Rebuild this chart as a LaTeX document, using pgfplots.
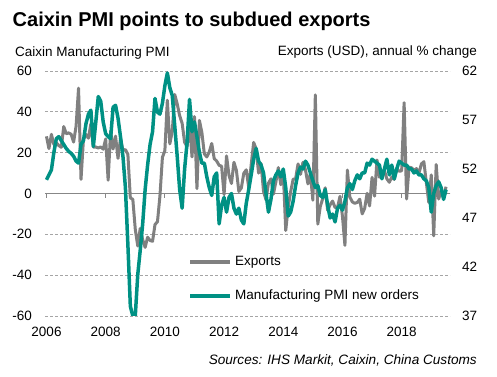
\documentclass[border=0pt]{standalone}
\usepackage{pgfplots}
\pgfplotsset{compat=1.18}
\usepackage{pgfplotstable}
\usepackage{fontspec}
\setmainfont{Liberation Sans}
\definecolor{expgray}{RGB}{128,128,128}
\definecolor{pmiteal}{RGB}{0,145,132}
\definecolor{gridgray}{RGB}{165,165,165}
\definecolor{zerogray}{RGB}{135,135,135}

% Exports (USD), annual % change; m = months since Jan 2006
\pgfplotstableread{
m v
0 28.0
1 22.0
2 29.0
3 24.0
4 24.9
5 23.5
6 22.6
7 32.8
8 29.3
9 29.7
10 29.0
11 25.2
12 33.0
13 51.6
14 6.9
15 26.8
16 28.9
17 27.1
18 34.1
19 22.7
20 22.8
21 22.3
22 22.8
23 21.7
24 26.7
25 6.5
26 30.6
27 21.8
28 28.1
29 17.2
30 26.9
31 21.1
32 21.5
33 19.2
34 -2.2
35 -2.8
36 -17.5
37 -25.7
38 -17.1
39 -22.6
40 -26.4
41 -21.4
42 -23.0
43 -23.4
44 -15.2
45 -13.8
46 -1.2
47 17.7
48 21.0
49 45.7
50 24.3
51 30.5
52 48.5
53 43.9
54 38.1
55 34.4
56 25.1
57 22.9
58 34.9
59 17.9
60 37.7
61 2.4
62 35.8
63 29.9
64 19.4
65 17.9
66 20.4
67 24.5
68 17.1
69 15.9
70 13.8
71 13.4
72 -0.5
73 18.4
74 8.9
75 4.9
76 15.3
77 11.3
78 1.0
79 2.7
80 9.9
81 11.6
82 2.9
83 14.1
84 25.0
85 21.8
86 10.0
87 14.7
88 1.0
89 -3.1
90 5.1
91 7.2
92 -0.3
93 5.6
94 12.7
95 4.3
96 10.6
97 -18.1
98 -6.6
99 0.9
100 7.0
101 7.2
102 14.5
103 9.4
104 15.3
105 11.6
106 4.7
107 9.7
108 -3.3
109 48.3
110 -15.0
111 -6.4
112 -2.5
113 2.8
114 -8.3
115 -5.5
116 -3.7
117 -6.9
118 -6.8
119 -1.4
120 -11.2
121 -25.4
122 11.5
123 -1.8
124 -4.1
125 -4.8
126 -4.4
127 -2.8
128 -10.0
129 -7.3
130 0.1
131 -6.1
132 7.9
133 -1.3
134 16.4
135 8.0
136 8.7
137 11.3
138 7.2
139 5.5
140 8.1
141 6.9
142 12.3
143 10.9
144 11.1
145 44.5
146 -2.7
147 12.9
148 12.6
149 11.3
150 12.2
151 9.8
152 14.5
153 15.6
154 5.4
155 -4.4
156 9.1
157 -20.7
158 14.2
159 -2.7
160 1.1
161 -1.3
162 3.3
}\exports

% Manufacturing PMI new orders
\pgfplotstableread{
m v
0 50.9
1 51.4
2 51.9
3 53.7
4 55.1
5 55.3
6 54.9
7 54.5
8 54.1
9 53.8
10 53.6
11 53.3
12 52.8
13 52.6
14 54.5
15 54.9
16 56.6
17 57.6
18 58.0
19 54.3
20 56.8
21 59.4
22 58.9
23 56.8
24 55.6
25 55.3
26 55.1
27 58.3
28 58.5
29 57.2
30 55.3
31 53.3
32 50.1
33 44.3
34 38.0
35 37.0
36 37.0
37 41.2
38 43.7
39 46.4
40 49.9
41 52.4
42 54.5
43 55.8
44 59.2
45 57.8
46 57.6
47 58.7
48 60.5
49 61.8
50 60.3
51 59.5
52 56.4
53 53.3
54 49.9
55 48.0
56 52.0
57 54.7
58 59.1
59 55.8
60 56.8
61 55.3
62 53.7
63 52.6
64 52.6
65 51.2
66 50.1
67 49.3
68 51.2
69 51.6
70 46.4
71 48.3
72 49.1
73 47.6
74 49.1
75 49.5
76 48.0
77 47.4
78 48.0
79 46.8
80 46.4
81 48.5
82 49.9
83 51.4
84 53.0
85 54.1
86 52.8
87 52.4
88 51.6
89 49.5
90 47.6
91 48.9
92 50.8
93 51.4
94 51.8
95 51.2
96 52.0
97 50.1
98 47.2
99 47.6
100 48.7
101 50.3
102 51.6
103 52.2
104 52.0
105 52.8
106 52.4
107 51.6
108 50.8
109 50.1
110 50.3
111 49.3
112 49.1
113 49.9
114 48.3
115 47.0
116 47.4
117 46.6
118 48.0
119 48.3
120 47.8
121 48.7
122 50.1
123 50.5
124 49.9
125 50.8
126 51.4
127 51.0
128 51.6
129 51.6
130 52.6
131 52.4
132 53.0
133 52.8
134 52.6
135 52.4
136 51.0
137 52.0
138 53.0
139 51.4
140 52.4
141 51.0
142 52.0
143 52.8
144 52.6
145 52.4
146 52.4
147 52.0
148 52.0
149 51.6
150 51.8
151 51.4
152 51.4
153 51.0
154 50.8
155 50.1
156 47.6
157 49.5
158 50.3
159 50.7
160 50.1
161 48.9
162 49.9
}\pmi

\begin{document}
\begin{tikzpicture}[font=\fontsize{13.5bp}{16bp}\selectfont]
\useasboundingbox (0,0) rectangle (497bp,377bp);
\pgfplotsset{
  base/.style={
    at={(45bp,61bp)}, anchor=south west,
    scale only axis, width=405bp, height=245bp,
    xmin=-0.6, xmax=163.6,
    major tick length=0pt, tick style={draw=none},
    axis line style={draw=none},
    /pgf/number format/assume math mode=true,
    tick label style={font=\fontsize{13.5bp}{16bp}\selectfont},
  }
}
% grid and left tick labels
\begin{axis}[base,
  ymin=-60, ymax=60, ytick={-60,-40,...,60},
  xtick=\empty,
  ymajorgrids,
  grid style={gridgray, line width=0.8bp, dash pattern=on 3bp off 2bp},
  yticklabel style={anchor=east, inner sep=0pt, xshift=-13bp},
]
\end{axis}
% zero line, small year ticks, and exports
\begin{axis}[
  at={(45bp,61bp)}, anchor=south west,
  scale only axis, width=405bp, height=245bp,
  xmin=-0.6, xmax=163.6, ymin=-60, ymax=60,
  axis x line=middle, axis y line=none,
  axis line style={zerogray, line width=1bp, -},
  xtick=\empty, ytick=\empty,
  unbounded coords=jump,
]
\addplot[zerogray, line width=1bp, forget plot] coordinates {
  (0,0) (0,-2) (12,nan) (24,0) (24,-2) (36,nan) (48,0) (48,-2) (60,nan)
  (72,0) (72,-2) (84,nan) (96,0) (96,-2) (108,nan) (120,0) (120,-2) (132,nan)
  (144,0) (144,-2)};
\addplot[expgray, line width=3bp, line join=round] table[x=m, y=v] {\exports};
\end{axis}
% PMI on right axis
\begin{axis}[base,
  ymin=37, ymax=62, ytick={37,42,...,62}, xtick=\empty,
  axis y line*=right, axis x line=none,
  yticklabel style={anchor=west, inner sep=0pt, xshift=12bp},
  legend image code/.code={\draw[#1] (0bp,0bp) -- (40bp,0bp);},
  legend style={at={(0.353,0.15)}, anchor=west, draw=none, fill=none,
    inner sep=0pt, row sep=21bp, column sep=0bp,
    font=\fontsize{13.5bp}{16bp}\selectfont,
    nodes={inner sep=0pt, text height=10bp, text depth=3bp}},
  legend cell align=left,
]
\addlegendimage{expgray, line width=4bp}
\addlegendentry{\hspace{3bp}Exports}
\addplot[pmiteal, line width=3.5bp, line join=round] table[x=m, y=v] {\pmi};
\addlegendentry{\hspace{3bp}Manufacturing PMI new orders}
\end{axis}
% year labels under the plot
\foreach \xx/\yy in {46.5/2006,105.7/2008,164.9/2010,224.1/2012,283.3/2014,342.5/2016,401.7/2018}{
  \node[anchor=base, inner sep=0pt] at (\xx bp,40.3bp) {\yy};
}
\node[anchor=base west, inner sep=0pt, font=\fontsize{20bp}{24bp}\selectfont\bfseries] at (12.5bp,350bp) {Caixin PMI points to subdued exports};
\node[anchor=base west, inner sep=0pt] at (15bp,320bp) {Caixin Manufacturing PMI};
\node[anchor=base east, inner sep=0pt] at (477bp,321bp) {Exports (USD), annual \% change};
\node[anchor=base east, inner sep=0pt, font=\fontsize{13.6bp}{16bp}\selectfont\itshape] at (477bp,13bp) {Sources: IHS Markit, Caixin, China Customs};
\end{tikzpicture}
\end{document}
